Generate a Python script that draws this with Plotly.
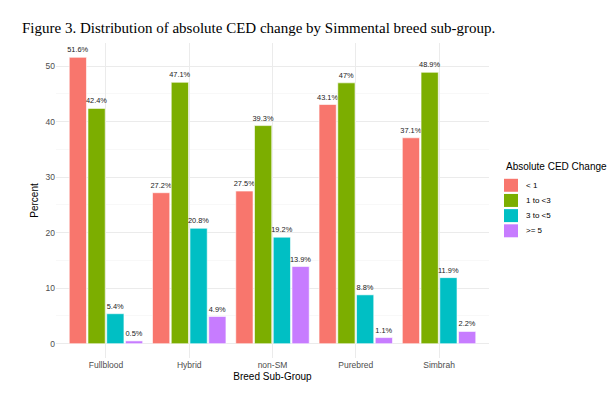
import plotly.graph_objects as go

groups = ["Fullblood", "Hybrid", "non-SM", "Purebred", "Simbrah"]
series_names = ["< 1", "1 to <3", "3 to <5", ">= 5"]
lt1 = [51.6, 27.2, 27.5, 43.1, 37.1]
one_to_3 = [42.4, 47.1, 39.3, 47.0, 48.9]
three_to_5 = [5.4, 20.8, 19.2, 8.8, 11.9]
ge5 = [0.5, 4.9, 13.9, 1.1, 2.2]
label_lt1 = ["51.6%", "27.2%", "27.5%", "43.1%", "37.1%"]
label_1_3 = ["42.4%", "47.1%", "39.3%", "47%", "48.9%"]
label_3_5 = ["5.4%", "20.8%", "19.2%", "8.8%", "11.9%"]
label_ge5 = ["0.5%", "4.9%", "13.9%", "1.1%", "2.2%"]
colors = ["#F8766D", "#7CAE00", "#00BFC4", "#C77CFF"]
y_ticks = [0, 10, 20, 30, 40, 50]
legend_title = "Absolute CED Change"

values = [lt1, one_to_3, three_to_5, ge5]
labels = [label_lt1, label_1_3, label_3_5, label_ge5]

W, H = 612, 396
L, R, T, B = 56, 123, 43, 37.5
PW, PH = W - L - R, H - T - B

def px_x(px):  # pixel -> paper x
    return (px - L) / PW

def px_y(py):  # pixel -> paper y
    return (H - B - py) / PH

FONT = "Liberation Sans, Arial, sans-serif"

fig = go.Figure()
for name, vals, labs, col in zip(series_names, values, labels, colors):
    fig.add_trace(go.Bar(
        x=groups, y=vals, name=name, text=labs,
        textposition="outside", cliponaxis=False,
        textfont=dict(size=7.5, color="#222222", family=FONT),
        marker=dict(color=col, line=dict(color="white", width=0.6)),
        showlegend=False,
    ))

# legend drawn as layout decorations (keys built from the series lists)
shapes = []
annotations = [dict(text=legend_title, xref="paper", yref="paper",
                    x=px_x(504), y=px_y(166.7), xanchor="left", yanchor="middle",
                    showarrow=False, font=dict(size=10, color="#000000", family=FONT))]
for i, (name, col) in enumerate(zip(series_names, colors)):
    cy = 185.5 + i * 15.2
    shapes.append(dict(type="rect", xref="paper", yref="paper",
                       x0=px_x(504), x1=px_x(518), y0=px_y(cy - 6.5), y1=px_y(cy + 6.5),
                       fillcolor=col, line=dict(width=0)))
    annotations.append(dict(text=name, xref="paper", yref="paper",
                            x=px_x(524), y=px_y(cy), xanchor="left", yanchor="middle",
                            showarrow=False, font=dict(size=8, color="#000000", family=FONT)))

fig.update_layout(
    width=W, height=H,
    margin=dict(l=L, r=R, t=T, b=B, autoexpand=False),
    paper_bgcolor="white", plot_bgcolor="white",
    barmode="group", bargap=0.1, bargroupgap=0.08,
    font=dict(family=FONT, color="#000000"),
    title=dict(text="Figure 3. Distribution of absolute CED change by Simmental breed sub-group.",
               font=dict(family="Liberation Serif, Times New Roman, serif", size=15, color="#000000"),
               x=22/W, xref="container", xanchor="left",
               y=1-27.5/H, yref="container", yanchor="middle", pad=dict(l=0, r=0, t=0, b=0)),
    uniformtext=dict(minsize=7, mode="show"),
    showlegend=False,
    shapes=shapes,
    annotations=annotations,
)

fig.update_xaxes(
    type="category", range=[-0.6, 4.6],
    showgrid=True, gridcolor="#EBEBEB", gridwidth=1,
    zeroline=False, showline=False, ticks="",
    tickfont=dict(size=8.5, color="#4D4D4D", family=FONT),
    title=dict(text="Breed Sub-Group", font=dict(size=10, color="#000000", family=FONT), standoff=4),
)
fig.update_yaxes(
    range=[-2.58, 54.18], tickvals=y_ticks,
    showgrid=True, gridcolor="#EBEBEB", gridwidth=1,
    minor=dict(tickvals=[5, 15, 25, 35, 45], showgrid=True, gridcolor="#F3F3F3", gridwidth=0.6),
    zeroline=False, showline=False, ticks="",
    tickfont=dict(size=8.5, color="#4D4D4D", family=FONT),
    title=dict(text="Percent", font=dict(size=10, color="#000000", family=FONT), standoff=5),
)

fig.write_html("out.html", config={"displayModeBar": False, "staticPlot": True},
               post_script="document.body.style.margin='0';document.body.style.padding='0';")
